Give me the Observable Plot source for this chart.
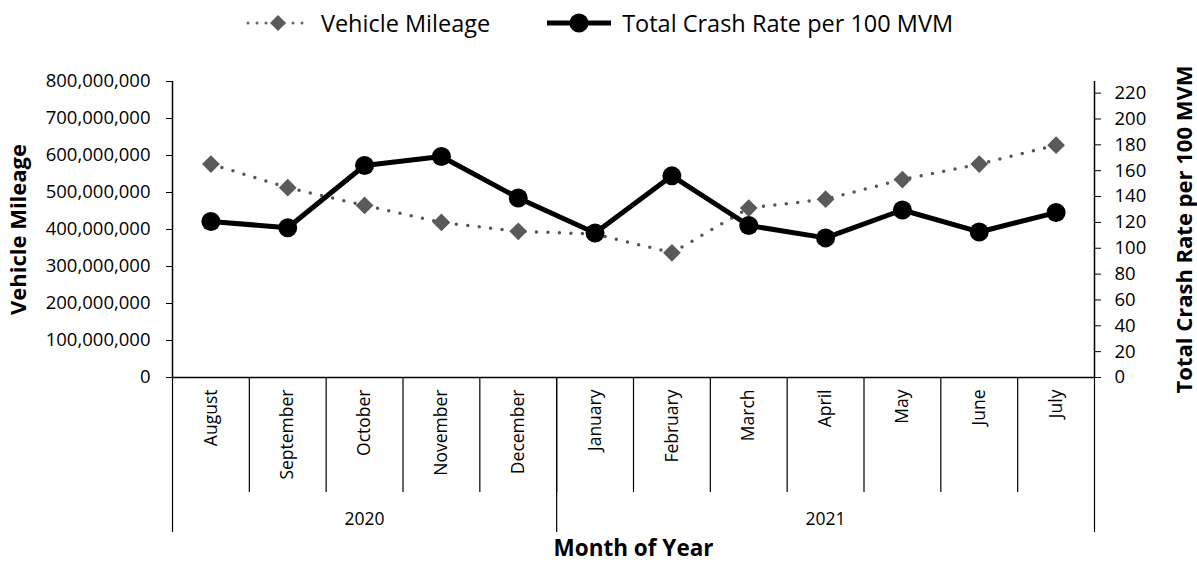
<!DOCTYPE html>
<html><head><meta charset="utf-8">
<script src="https://cdn.jsdelivr.net/npm/d3@7"></script>
<script src="https://cdn.jsdelivr.net/npm/@observablehq/plot@0.6"></script>
<style>
body{margin:0;background:#fff;font-family:"Open Sans",sans-serif;color:#000;}
#legend{height:45px;display:flex;justify-content:center;align-items:center;font-size:23.5px;}
#legend .item{display:flex;align-items:center;}
#legend svg{display:block;margin-right:9px;}
#legend .gap{width:55px;}
#chart svg g[aria-label="y-axis label"]{font-weight:bold;font-size:22px;}
#chart svg g[aria-label="x-axis label"]{font-weight:bold;font-size:22.5px;}
#chart svg g[aria-label="x-axis tick label"]{font-size:17.5px;}
</style></head><body>
<div id="legend"></div>
<div id="chart"></div>
<script>
const months = ["August","September","October","November","December","January","February","March","April","May","June","July"];
const years = ["2020","2021"];
const monthsPerYear = [5, 7];
const mileage = [577e6, 513e6, 465e6, 419e6, 395e6, 388e6, 337e6, 458e6, 482e6, 535e6, 577e6, 628e6];
const crashRate = [120.7, 115.9, 164, 171, 138.9, 111.8, 156, 117.6, 108, 129.6, 112.6, 127.6];
const leftTicks = [0, 100e6, 200e6, 300e6, 400e6, 500e6, 600e6, 700e6, 800e6];
const rightTicks = [0, 20, 40, 60, 80, 100, 120, 140, 160, 180, 200, 220];
const leftMax = 800e6;
const rightMax = 229;
const seriesNames = ["Vehicle Mileage", "Total Crash Rate per 100 MVM"];

const k = leftMax / rightMax;
const data = months.map((m, i) => ({pos: i + 0.5, month: m, mileage: mileage[i], rate: crashRate[i], rateScaled: crashRate[i] * k}));
const monthPos = data.map(d => d.pos);
const innerBounds = d3.range(1, months.length);
const yearBounds = [0, ...d3.cumsum(monthsPerYear)];
const yearCenters = years.map((y, i) => (yearBounds[i] + yearBounds[i + 1]) / 2);

// legend
const legend = document.getElementById("legend");
legend.innerHTML = `
<div class="item"><svg width="68" height="24"><line x1="4" y1="12" x2="64" y2="12" stroke="#666" stroke-width="3" stroke-linecap="round" stroke-dasharray="0 9"/><path d="M34,4 L42,12 L34,20 L26,12 Z" fill="#5a5a5a"/></svg><span>${seriesNames[0]}</span></div>
<div class="gap"></div>
<div class="item"><svg width="68" height="24"><line x1="2" y1="12" x2="66" y2="12" stroke="#000" stroke-width="5"/><circle cx="34" cy="12" r="9.5" fill="#000"/></svg><span>${seriesNames[1]}</span></div>`;

const chart = Plot.plot({
  width: 1197,
  height: 520,
  marginTop: 36,
  marginBottom: 188,
  marginLeft: 172,
  marginRight: 103,
  style: {fontFamily: "Open Sans", fontSize: "18.5px", color: "#000", background: "#fff"},
  x: {type: "linear", domain: [0, months.length]},
  y: {domain: [0, leftMax]},
  marks: [
    Plot.ruleX([0, months.length], {stroke: "#000", strokeWidth: 1.5}),
    Plot.ruleY([0], {stroke: "#000", strokeWidth: 1.5}),
    Plot.axisY(leftTicks, {anchor: "left", tickSize: 6, tickPadding: 16, tickFormat: d3.format(","),
      label: "Vehicle Mileage", labelAnchor: "center", labelArrow: "none", labelOffset: 162}),
    Plot.axisY(rightTicks.map(v => v * k), {anchor: "right", tickSize: 6, tickPadding: 14, tickFormat: d => String(Math.round(d / k)),
      label: "Total Crash Rate per 100 MVM", labelAnchor: "center", labelArrow: "none", labelOffset: 97}),
    Plot.axisX(monthPos, {anchor: "bottom", tickSize: 0, tickPadding: 12, tickRotate: -90,
      tickFormat: d => months[monthPos.indexOf(d)], label: null}),
    Plot.axisX(innerBounds, {anchor: "bottom", tickSize: 115, tickFormat: () => "", label: null, strokeWidth: 1.2}),
    Plot.axisX(yearBounds, {anchor: "bottom", tickSize: 155, tickFormat: () => "", label: null, strokeWidth: 1.2}),
    Plot.axisX(yearCenters, {anchor: "bottom", tickSize: 0, tickPadding: 135,
      tickFormat: d => years[yearCenters.indexOf(d)],
      label: "Month of Year", labelAnchor: "center", labelArrow: "none", labelOffset: 178}),
    Plot.line(data, {x: "pos", y: "mileage", stroke: "#555", strokeWidth: 3.5, strokeLinecap: "round", strokeDasharray: "0 11.5"}),
    Plot.dot(data, {x: "pos", y: "mileage", symbol: "diamond2", r: 8, fill: "#5a5a5a"}),
    Plot.line(data, {x: "pos", y: "rateScaled", stroke: "#000", strokeWidth: 5}),
    Plot.dot(data, {x: "pos", y: "rateScaled", r: 9.5, fill: "#000"})
  ]
});
document.getElementById("chart").appendChild(chart);
</script>
</body></html>
